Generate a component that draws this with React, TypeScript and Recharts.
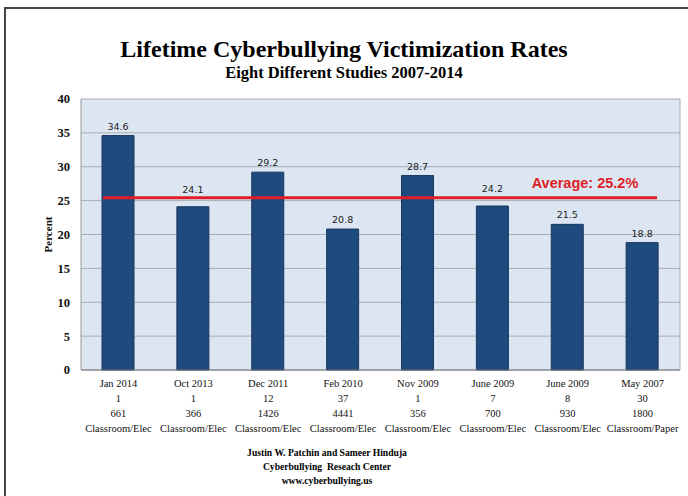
import {
  BarChart,
  Bar,
  XAxis,
  YAxis,
  CartesianGrid,
  ReferenceLine,
  LabelList,
} from 'recharts';

const studies = ['Jan 2014', 'Oct 2013', 'Dec 2011', 'Feb 2010', 'Nov 2009', 'June 2009', 'June 2009', 'May 2007'];
const schools = ['1', '1', '12', '37', '1', '7', '8', '30'];
const sampleSizes = ['661', '366', '1426', '4441', '356', '700', '930', '1800'];
const methods = [
  'Classroom/Elec',
  'Classroom/Elec',
  'Classroom/Elec',
  'Classroom/Elec',
  'Classroom/Elec',
  'Classroom/Elec',
  'Classroom/Elec',
  'Classroom/Paper',
];
const rates = [34.6, 24.1, 29.2, 20.8, 28.7, 24.2, 21.5, 18.8];
const average = 25.2;
const yTicks = [0, 5, 10, 15, 20, 25, 30, 35, 40];

const data = studies.map((s, i) => ({
  id: i,
  study: s,
  schools: schools[i],
  n: sampleSizes[i],
  method: methods[i],
  rate: rates[i],
}));

const serif = '"Liberation Serif", "DejaVu Serif", serif';

function StudyTick(props: any) {
  const { x, y, payload } = props;
  const d = data[payload.value];
  const rows = [d.study, d.schools, d.n, d.method];
  return (
    <text x={x} y={y} textAnchor="middle" fontFamily={serif} fontSize={10.5} fill="#111">
      {rows.map((r, i) => (
        <tspan key={i} x={x} y={y + 9 + i * 15}>
          {r}
        </tspan>
      ))}
    </text>
  );
}

// value labels just under the average line get nudged up so the red line doesn't cross them
function RateLabel(props: any) {
  const { x, y, width, value } = props;
  const lift = value < average && average - value < 2 ? 8 : 0;
  return (
    <text
      x={x + width / 2}
      y={y - 6 - lift}
      textAnchor="middle"
      fontFamily='"DejaVu Sans", Verdana, sans-serif'
      fontSize={9.5}
      fill="#222"
    >
      {value}
    </text>
  );
}

function AvgLine(props: any) {
  const { x1, x2, y1 } = props;
  return (
    <g>
      <line x1={x1 + 22} x2={x2 - 23} y1={y1 - 1.5} y2={y1 - 1.5} stroke="#e01e25" strokeWidth={3} />
      <text
        x={585}
        y={y1 - 11}
        textAnchor="middle"
        fontFamily='"Liberation Sans", Arial, sans-serif'
        fontWeight="bold"
        fontSize={14.5}
        fill="#e01e25"
      >
        Average: {average}%
      </text>
    </g>
  );
}

export default function App() {
  return (
    <div style={{ position: 'absolute', left: 0, top: 0, width: 688, height: 496, overflow: 'hidden', background: '#fff' }}>
      <div
        style={{
          position: 'absolute',
          left: 4,
          top: 7,
          width: 720,
          height: 520,
          borderLeft: '2px solid #444',
          borderTop: '2px solid #444',
        }}
      />
      <div
        style={{
          position: 'absolute',
          top: 34,
          left: 0,
          width: 688,
          textAlign: 'center',
          fontFamily: serif,
          fontWeight: 'bold',
          fontSize: 24,
          lineHeight: '30px',
        }}
      >
        Lifetime Cyberbullying Victimization Rates
      </div>
      <div
        style={{
          position: 'absolute',
          top: 63,
          left: 0,
          width: 688,
          textAlign: 'center',
          fontFamily: serif,
          fontWeight: 'bold',
          fontSize: 16.5,
          lineHeight: '20px',
        }}
      >
        Eight Different Studies 2007-2014
      </div>
      <div style={{ position: 'absolute', left: 0, top: 0 }}>
        <BarChart width={688} height={496} data={data} margin={{ top: 99, right: 8, bottom: 66, left: 31 }}>
          <CartesianGrid
            fill="#dce6f2"
            stroke="#a9adb3"
            verticalCoordinatesGenerator={({ offset }: any) => [offset.left + offset.width]}
          />
          <XAxis
            dataKey="id"
            tick={<StudyTick />}
            tickLine={false}
            axisLine={{ stroke: '#777' }}
            height={60}
            interval={0}
          />
          <YAxis
            domain={[0, 40]}
            ticks={yTicks}
            width={50}
            tickLine={false}
            axisLine={{ stroke: '#999' }}
            tick={{ fontFamily: serif, fontWeight: 'bold', fontSize: 12.5, fill: '#111' }}
            tickMargin={5}
            label={{
              value: 'Percent',
              angle: -90,
              position: 'insideLeft',
              offset: 17,
              style: { fontFamily: serif, fontWeight: 'bold', fontSize: 11, fill: '#111', textAnchor: 'middle' },
            }}
          />
          <Bar dataKey="rate" fill="#1f4a7e" stroke="#17375e" barSize={32} isAnimationActive={false}>
            <LabelList dataKey="rate" content={<RateLabel />} />
          </Bar>
          <ReferenceLine y={average} shape={<AvgLine />} />
        </BarChart>
      </div>
      <div
        style={{
          position: 'absolute',
          top: 446,
          left: 207,
          width: 240,
          textAlign: 'center',
          fontFamily: serif,
          fontWeight: 'bold',
          fontSize: 9.6,
          lineHeight: '14px',
        }}
      >
        <div>Justin W. Patchin and Sameer Hinduja</div>
        <div>Cyberbullying&nbsp; Reseach Center</div>
        <div>www.cyberbullying.us</div>
      </div>
    </div>
  );
}
